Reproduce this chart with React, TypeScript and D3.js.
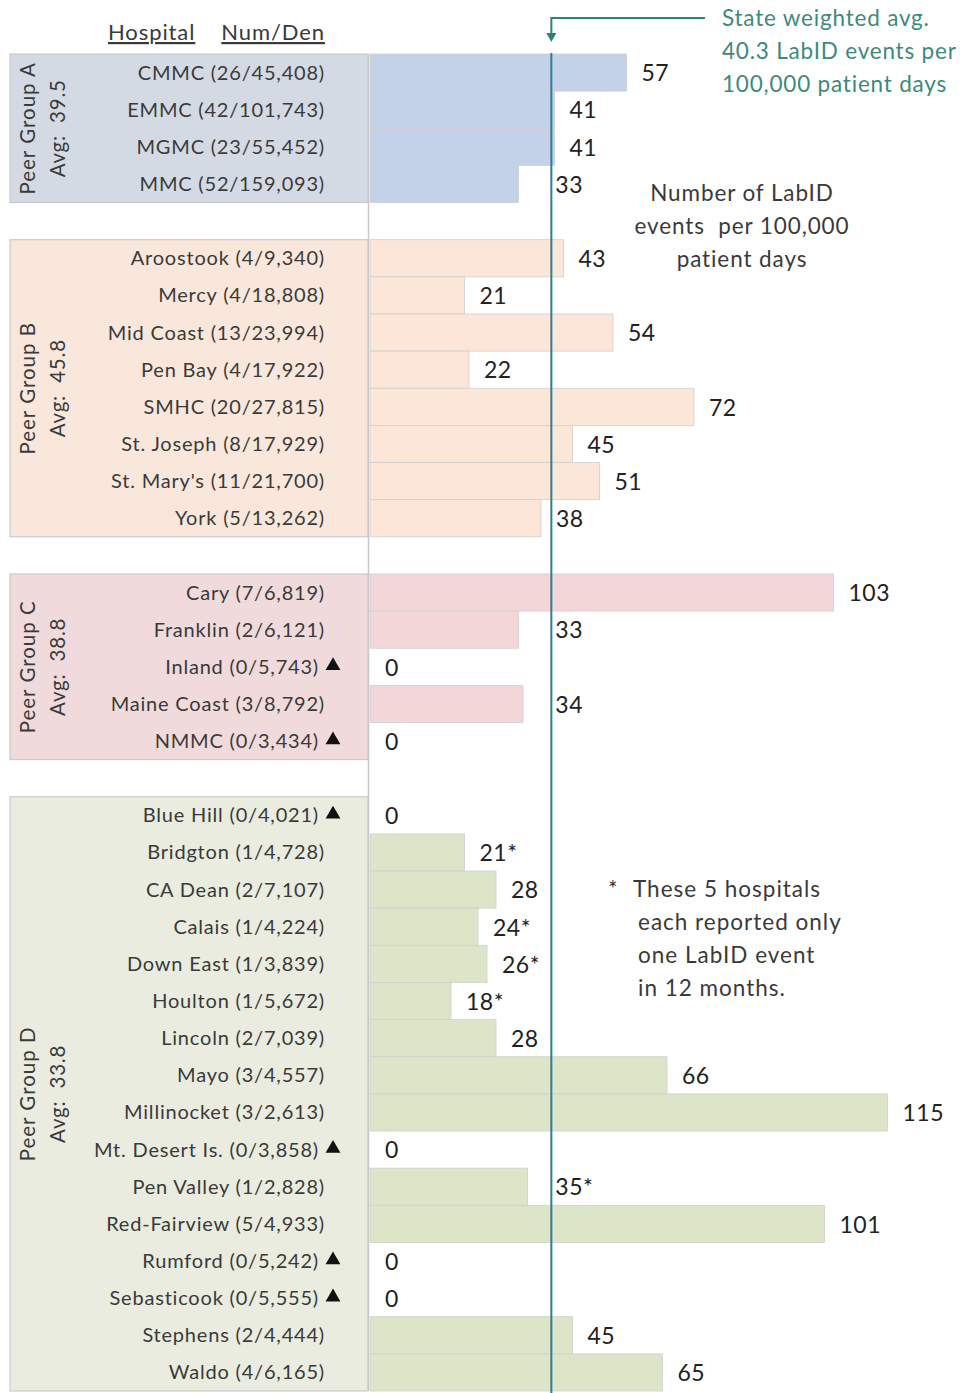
import React from "react";
import * as d3 from "d3";

// ---------- data ----------
const groupIds = ["A", "B", "C", "D"];
const groupAvgs = [39.5, 45.8, 38.8, 33.8];

const hospitals = [
  "CMMC", "EMMC", "MGMC", "MMC",
  "Aroostook", "Mercy", "Mid Coast", "Pen Bay", "SMHC", "St. Joseph", "St. Mary's", "York",
  "Cary", "Franklin", "Inland", "Maine Coast", "NMMC",
  "Blue Hill", "Bridgton", "CA Dean", "Calais", "Down East", "Houlton", "Lincoln", "Mayo",
  "Millinocket", "Mt. Desert Is.", "Pen Valley", "Red-Fairview", "Rumford", "Sebasticook", "Stephens", "Waldo",
];
const hospitalGroups = [
  "A", "A", "A", "A",
  "B", "B", "B", "B", "B", "B", "B", "B",
  "C", "C", "C", "C", "C",
  "D", "D", "D", "D", "D", "D", "D", "D", "D", "D", "D", "D", "D", "D", "D", "D",
];
const numerators = [26, 42, 23, 52, 4, 4, 13, 4, 20, 8, 11, 5, 7, 2, 0, 3, 0, 0, 1, 2, 1, 1, 1, 2, 3, 3, 0, 1, 5, 0, 0, 2, 4];
const denominators = [
  45408, 101743, 55452, 159093,
  9340, 18808, 23994, 17922, 27815, 17929, 21700, 13262,
  6819, 6121, 5743, 8792, 3434,
  4021, 4728, 7107, 4224, 3839, 5672, 7039, 4557, 2613, 3858, 2828, 4933, 5242, 5555, 4444, 6165,
];
const rates = [57, 41, 41, 33, 43, 21, 54, 22, 72, 45, 51, 38, 103, 33, 0, 34, 0, 0, 21, 28, 24, 26, 18, 28, 66, 115, 0, 35, 101, 0, 0, 45, 65];
const starredHospitals = ["Bridgton", "Calais", "Down East", "Houlton", "Pen Valley"];
const stateAvg = 40.3;

const stateNote = ["State weighted avg.", "40.3 LabID events per", "100,000 patient days"];
const axisNote = ["Number of LabID", "events  per 100,000", "patient days"];
const footNote = ["These 5 hospitals", "each reported only", "one LabID event", "in 12 months."];

// ---------- styles ----------
const groupFills: Record<string, string> = { A: "#d4dae3", B: "#f9e7dc", C: "#f0dadb", D: "#e9ecdf" };
const barFills: Record<string, string> = { A: "#c3d2e8", B: "#fce6d7", C: "#f3d6d7", D: "#dde5c8" };
const FONT = "Lato, 'Open Sans', sans-serif";
const TEXT = "#3a3a3a";

export default function App() {
  const W = 960, H = 1393;
  const rowKeys: string[] = [];
  groupIds.forEach((g, gi) => {
    hospitals.forEach((h, i) => { if (hospitalGroups[i] === g) rowKeys.push(h); });
    if (gi < groupIds.length - 1) rowKeys.push("gap-" + g);
  });
  const y = d3.scaleBand<string>().domain(rowKeys).range([54, 1391]).paddingInner(0).paddingOuter(0);
  const x = d3.scaleLinear().domain([0, 115]).range([370, 887.5]);
  const fmt = d3.format(",");
  const lineX = x(stateAvg);
  const bw = y.bandwidth();

  const groupExtents = groupIds.map((g) => {
    const names = hospitals.filter((_, i) => hospitalGroups[i] === g);
    const y0 = y(names[0])!;
    const y1 = y(names[names.length - 1])! + bw;
    return { g, y0, y1 };
  });

  const tri = d3.symbol().type(d3.symbolTriangle).size(95)()!;

  return (
    <div style={{ position: "absolute", left: 0, top: 0 }}>
      <svg width={W} height={H} style={{ display: "block", background: "#fff" }} fontFamily={FONT}>
        {/* header */}
        <text x={108} y={40} fontSize={22} letterSpacing={0.9} fill={TEXT} textDecoration="underline">Hospital</text>
        <text x={325} y={40} fontSize={22} letterSpacing={0.9} textAnchor="end" fill={TEXT} textDecoration="underline">Num/Den</text>

        {/* group bands in label area */}
        {groupExtents.map((ge, gi) => (
          <g key={ge.g}>
            <rect x={10} y={ge.y0} width={358} height={ge.y1 - ge.y0} fill={groupFills[ge.g]} stroke="#c4c4c4" strokeWidth={1} />
            <g transform={`translate(28,${(ge.y0 + ge.y1) / 2}) rotate(-90)`}>
              <text textAnchor="middle" dy="0.35em" fontSize={20.5} letterSpacing={1} fill={TEXT}>{`Peer Group ${ge.g}`}</text>
            </g>
            <g transform={`translate(58,${(ge.y0 + ge.y1) / 2}) rotate(-90)`}>
              <text textAnchor="middle" dy="0.35em" fontSize={20.5} letterSpacing={0.8} fill={TEXT} style={{ whiteSpace: "pre" }}>{`Avg:  ${groupAvgs[gi]}`}</text>
            </g>
          </g>
        ))}

        {/* axis line */}
        <line x1={368.5} x2={368.5} y1={54} y2={1391} stroke="#c8c8c8" strokeWidth={1.5} />

        {/* bars */}
        {hospitals.map((h, i) => rates[i] > 0 ? (
          <rect key={"b" + h} x={x(0)} y={y(h)!} width={x(rates[i]) - x(0)} height={bw}
            fill={barFills[hospitalGroups[i]]} stroke="#cfcfcf" strokeWidth={0.8} />
        ) : null)}

        {/* hospital labels */}
        {hospitals.map((h, i) => {
          const cy = y(h)! + bw / 2;
          const zero = numerators[i] === 0;
          const label = `${h} (${numerators[i]}/${fmt(denominators[i])})`;
          return (
            <g key={"l" + h}>
              <text x={zero ? 319 : 325} y={cy} dy="0.35em" textAnchor="end" fontSize={20} letterSpacing={0.8} fill={TEXT}>{label}</text>
              {zero && <path d={tri} transform={`translate(333,${cy - 1})`} fill="#111" />}
            </g>
          );
        })}

        {/* value labels */}
        {hospitals.map((h, i) => {
          const cy = y(h)! + bw / 2;
          const txt = `${rates[i]}${starredHospitals.includes(h) ? "*" : ""}`;
          const wEst = txt.length * 13;
          let lx = x(rates[i]) + 15;
          if (lx < lineX + 2 && lx + wEst > lineX - 2) lx = lineX + 4;
          return (
            <text key={"v" + h} x={lx} y={cy} dy="0.38em" fontSize={23} letterSpacing={0.5} fill="#222">{txt}</text>
          );
        })}

        {/* state average line */}
        <line x1={lineX} x2={lineX} y1={53} y2={1393} stroke="#2b7f92" strokeWidth={2} />
        <path d={`M705,18 H${lineX} V34`} fill="none" stroke="#2a8674" strokeWidth={2} />
        <path d={`M${lineX - 5},33 L${lineX + 5},33 L${lineX},42 Z`} fill="#2a8674" />
        {stateNote.map((t, k) => (
          <text key={"s" + k} x={722} y={26 + k * 33} fontSize={22.5} letterSpacing={0.8} fill="#3d8a7c">{t}</text>
        ))}

        {/* axis note */}
        {axisNote.map((t, k) => (
          <text key={"a" + k} x={742} y={201 + k * 33} textAnchor="middle" fontSize={22.5} letterSpacing={0.9} fill={TEXT} style={{ whiteSpace: "pre" }}>{t}</text>
        ))}

        {/* footnote */}
        <text x={608} y={897} fontSize={22.5} fill={TEXT}>*</text>
        {footNote.map((t, k) => (
          <text key={"f" + k} x={k === 0 ? 633 : 638} y={897 + k * 33} fontSize={22.5} letterSpacing={1} fill={TEXT}>{t}</text>
        ))}
      </svg>
    </div>
  );
}
